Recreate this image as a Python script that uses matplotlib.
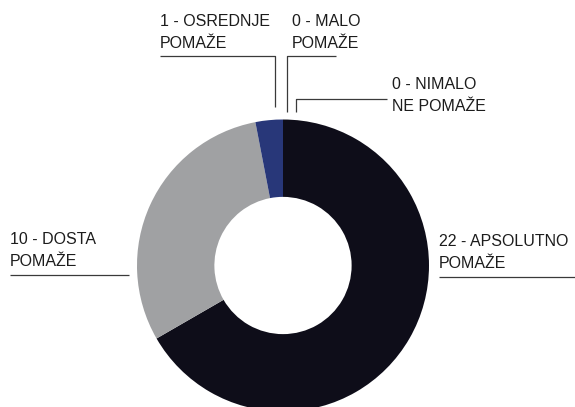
import matplotlib
matplotlib.use("Agg")
import matplotlib.pyplot as plt

categories = ["APSOLUTNO POMAŽE", "DOSTA POMAŽE", "OSREDNJE POMAŽE", "MALO POMAŽE", "NIMALO NE POMAŽE"]
values = [22, 10, 1, 0, 0]
colors = ["#0e0d19", "#a0a1a3", "#283779", "#283779", "#283779"]
labels = ["22 - APSOLUTNO\nPOMAŽE", "10 - DOSTA\nPOMAŽE", "1 - OSREDNJE\nPOMAŽE",
          "0 - MALO\nPOMAŽE", "0 - NIMALO\nNE POMAŽE"]

plt.rcParams["font.family"] = ["Liberation Sans", "DejaVu Sans"]

W, H = 575, 407
cx, cy, R = 283, 265.5, 146.0


def px(x, y):
    # pixel (from top-left) -> data coords
    return (x - cx) / R, (cy - y) / R


fig = plt.figure(figsize=(W / 100, H / 100), dpi=100)
ax = fig.add_axes([0, 0, 1, 1])
ax.pie(values, colors=colors, startangle=90, counterclock=False, radius=1,
       wedgeprops=dict(width=0.53, linewidth=0))
ax.set_xlim(-cx / R, (W - cx) / R)
ax.set_ylim(-(H - cy) / R, cy / R)
ax.set_aspect("equal")
ax.axis("off")

# label positions (left, top) in pixels and leader line paths
label_pos = [(439, 234), (10, 232), (160, 14), (292, 14), (392, 77)]
leaders = [
    [(439, 277), (575, 277)],
    [(10, 275), (129, 275)],
    [(160, 56), (275, 56), (275, 107)],
    [(336, 56), (287, 56), (287, 112)],
    [(387, 99), (296, 99), (296, 112)],
]

for lab, (lx, ly), path in zip(labels, label_pos, leaders):
    x, y = px(lx, ly)
    ax.text(x, y, lab, ha="left", va="top", fontsize=11.5, color="#1c1c1c",
            linespacing=1.6)
    xs, ys = zip(*[px(a, b) for a, b in path])
    ax.plot(xs, ys, color="#3a3a3a", lw=0.9, solid_capstyle="butt")

fig.savefig("out.png", dpi=100)
